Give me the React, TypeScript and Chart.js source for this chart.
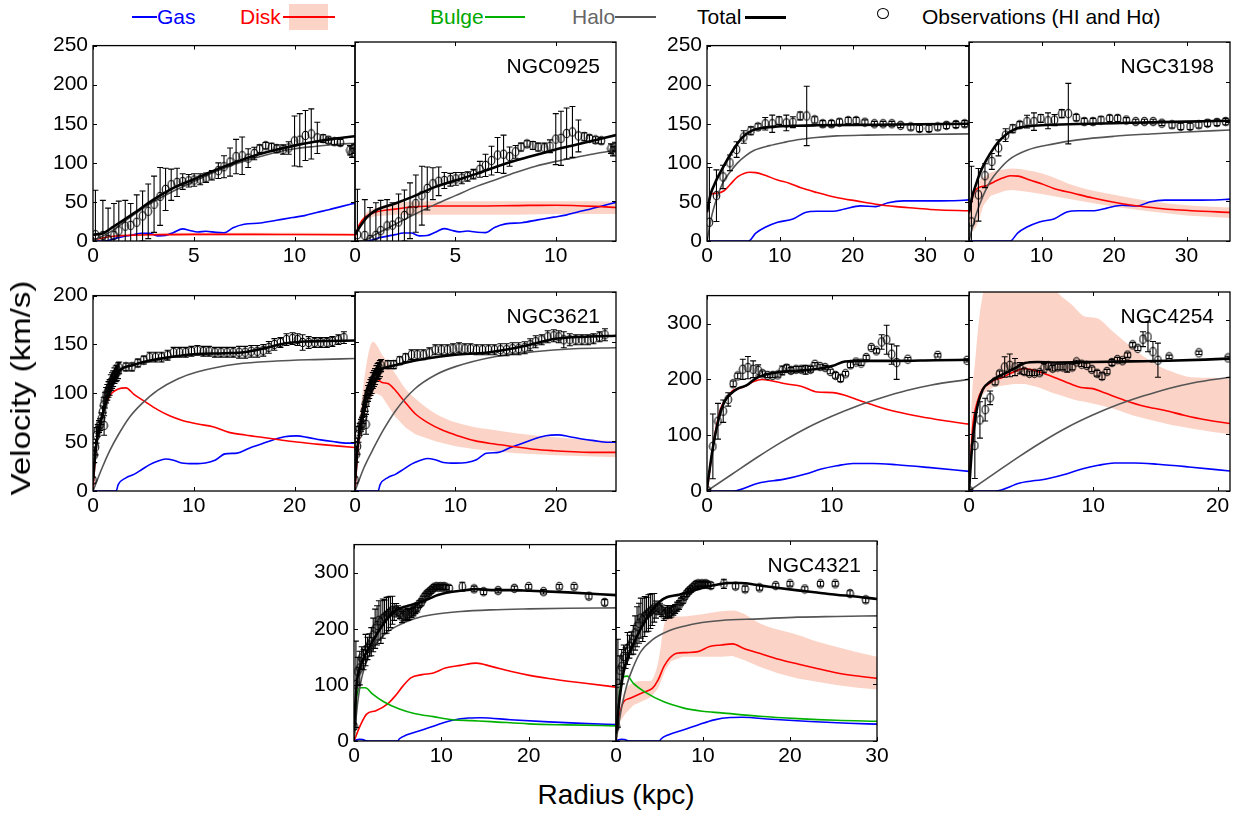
import React, { useEffect, useRef } from 'react';
import { Chart, registerables } from 'chart.js';

Chart.register(...registerables);

type Pts = number[][];

const FONT = "'Liberation Sans', Arial, Helvetica, sans-serif";
const GAS_C = '#0000ff';
const DISK_C = '#ff0000';
const BULGE_C = '#00b000';
const HALO_C = '#555555';
const TOT_C = '#000000';
const BAND_C = '#fcd4c7';

// ---------- NGC0925 ----------
const obs0925: Pts = [
  [0.12, 8, 57], [0.49, 7, 45], [0.75, 2, 40], [1.04, 7, 41], [1.28, 13, 38], [1.6, 19, 33],
  [1.87, 20, 28], [2.17, 24, 35], [2.46, 32, 32], [2.74, 38, 35], [3.03, 47, 36], [3.33, 57, 37],
  [3.6, 66, 27], [3.88, 72, 20], [4.17, 75, 18], [4.45, 76, 10], [4.75, 77, 8], [5.02, 78, 8],
  [5.32, 79, 7], [5.61, 81, 6], [5.9, 84, 6], [6.22, 90, 10], [6.5, 95, 14], [6.8, 101, 18],
  [7.1, 108, 22], [7.4, 109, 24], [7.7, 106, 12], [8.0, 112, 8], [8.27, 118, 5], [8.57, 122, 4],
  [8.86, 120, 5], [9.12, 118, 5], [9.43, 117, 6], [9.71, 119, 8], [10.0, 128, 32], [10.26, 129, 34],
  [10.54, 135, 32], [10.83, 137, 32], [11.13, 132, 20], [11.42, 131, 5], [11.68, 129, 4], [11.98, 127, 4],
  [12.27, 126, 4], [12.75, 116, 6], [12.85, 113, 6], [12.95, 118, 6],
];
const gas0925: Pts = [
  [0, 0], [0.6, 0], [1.2, 4], [2, 8], [2.4, 10], [2.8, 10], [3.2, 6.5], [3.6, 7], [4, 11], [4.45, 15.5],
  [4.8, 13.5], [5.2, 11.5], [5.6, 12.5], [6.1, 11], [6.5, 10.5], [6.95, 17], [7.5, 21.5], [8.3, 23],
  [9.1, 26.5], [9.9, 30], [10.5, 32.5], [11.1, 36.5], [11.7, 40], [12.3, 44], [13, 48.5],
];
const diskA0925: Pts = [[0, 1], [0.5, 4], [1, 6], [2, 7.5], [3, 8], [5, 8.5], [8, 8.5], [10, 8.3], [13, 8]];
const bandXA0925 = [1, 2, 4, 6, 8, 10, 12, 13];
const bandLoA0925 = [4.5, 6, 6.5, 7, 7, 7, 6.8, 6.5];
const bandHiA0925 = [7.5, 9.5, 10.5, 10.5, 10.5, 10.5, 10.3, 10];
const haloA0925: Pts = [
  [0, 0], [1, 14], [2, 33], [3, 50], [4, 64], [5, 76], [6, 88], [7, 98], [8, 106], [9, 113],
  [10, 118], [11, 121], [12, 123.5], [13, 125],
];
const totA0925: Pts = [
  [0, 8], [0.5, 10], [1, 18], [2, 35], [3, 53], [4, 68], [5, 79], [6, 90], [7, 100], [8, 109],
  [9, 116], [10, 122], [11, 127], [12, 131], [13, 134],
];
const diskB0925: Pts = [
  [0, 5], [0.2, 20], [0.5, 30], [1, 36], [2, 40], [3, 43], [4, 44], [6, 44], [8, 44.5], [10, 45],
  [12, 43.5], [13, 42],
];
const bandXB0925 = [0, 0.5, 1, 1.5, 2, 3, 4, 6, 8, 10, 12, 13];
const bandLoB0925 = [5, 27, 31, 32, 33, 33, 33, 33, 33, 34, 34, 34];
const bandHiB0925 = [5, 33, 41, 45, 47, 50, 50, 50, 50, 50, 50, 49];
const haloB0925: Pts = [
  [0, 0], [0.5, 1], [1, 8], [2, 21], [3, 34], [4, 46], [5, 57], [6, 68], [7, 77], [8, 86], [9, 94],
  [10, 100], [11, 105], [12, 110], [13, 114],
];
const totB0925: Pts = [
  [0, 8], [0.3, 20], [0.6, 30], [1, 38], [2, 47], [3, 57], [4, 68], [5, 76], [6, 84], [7, 93],
  [8, 101], [9, 108], [10, 115], [11, 121], [12, 127], [13, 133],
];

// ---------- NGC3198 ----------
const obs3198: Pts = [
  [0.33, 24, 70], [1.3, 58, 33], [2.2, 82, 15], [3.15, 100, 10], [4.07, 117, 10], [5.05, 133, 8],
  [6.03, 141, 5], [7.0, 146, 4], [8.0, 150, 8], [8.96, 150, 11], [9.9, 154, 5], [10.9, 151, 10],
  [11.8, 152, 7], [12.8, 160, 5], [13.7, 160, 38], [14.8, 155, 4], [15.9, 150, 4], [17.1, 150, 4],
  [18.2, 152, 4], [19.4, 154, 4], [20.5, 154, 4], [21.7, 152, 3], [23.0, 150, 3], [24.2, 150, 3],
  [25.4, 150, 3], [26.6, 148, 3], [28.0, 146, 4], [29.2, 144, 4], [30.5, 144, 4], [31.7, 146, 4],
  [32.9, 148, 4], [34.2, 149, 4], [35.4, 150, 4],
];
const gas3198: Pts = [
  [0, 0], [5.7, 0], [6.7, 10], [8, 17.5], [9.7, 24], [11.8, 28], [13.5, 36.5], [15.1, 38], [17.3, 38],
  [18.9, 41], [21.1, 45], [23.2, 44], [24.9, 49], [27, 51.3], [29.2, 51.3], [31.4, 51.3], [33.6, 51.5],
  [36, 52.6],
];
const diskA3198: Pts = [
  [0, 36], [0.54, 60], [1.25, 61], [2.3, 64], [3.15, 72], [4.2, 82], [5.9, 88], [6.7, 87.5], [8, 84],
  [9.7, 78], [11.3, 74], [12.9, 68], [15.1, 62], [17.8, 55.6], [20.5, 51.3], [23.2, 47], [26, 44],
  [28.7, 42], [31.4, 40], [36, 38.7],
];
const haloA3198: Pts = [
  [0, 0], [0.7, 34], [1.5, 59], [2.2, 75], [3.15, 88], [4.2, 100], [5.3, 109], [6.5, 116], [8.6, 122],
  [10.5, 126], [12.4, 129.5], [15, 132.5], [17.8, 134.5], [22, 135.5], [26, 136], [31, 136.5], [36, 137],
];
const totA3198: Pts = [
  [0, 37], [0.5, 60], [1, 72], [1.5, 82], [2.6, 101], [3.7, 118], [4.8, 132], [6.1, 141], [7.5, 144.5],
  [9.7, 146.5], [12.4, 147.5], [15.1, 148], [20.5, 148.6], [26, 149], [36, 150],
];
const diskB3198: Pts = [
  [0, 34], [0.65, 60], [1.36, 67], [2.4, 69.5], [3.5, 74.5], [4.6, 79], [5.7, 82], [6.8, 81.5],
  [8.4, 76.5], [10, 72], [11.7, 66], [14.4, 60], [17.1, 54], [19.8, 49], [22.5, 45], [25.2, 42],
  [28, 39.5], [30.7, 38], [36, 36],
];
const bandXB3198 = [0, 0.5, 1, 1.5, 2, 3, 5, 6, 8, 10, 15, 20, 25, 30, 36];
const bandLoB3198 = [25, 12, 18, 30, 45, 57, 63, 64, 62, 59, 51, 43, 37, 32, 29];
const bandHiB3198 = [40, 62, 72, 77, 80, 86, 90, 91, 89, 85, 68, 58, 50, 45, 42];
const haloB3198: Pts = [
  [0, 0], [0.5, 18], [1, 34], [2, 58], [3, 76], [4, 88], [5.5, 102], [8, 114], [11.7, 122], [15, 127],
  [20, 131.5], [25, 134.5], [30, 137], [36, 139.5],
];
const totB3198: Pts = [
  [0, 36], [0.5, 58], [1, 72], [1.5, 85], [2, 95], [3, 111], [4, 124], [5, 133], [6, 139], [7, 142.5],
  [8, 144], [10, 145.5], [15, 147], [20, 148], [25, 149], [30, 150], [36, 151],
];

// ---------- NGC3621 ----------
const obs3621: Pts = [
  [0, 11, 3], [0.12, 37, 8], [0.24, 45, 8], [0.35, 57, 8], [0.47, 62, 6], [0.6, 66, 6], [0.7, 68, 6],
  [0.83, 74, 6], [0.95, 81, 6], [1.06, 88, 8], [1.1, 67, 10], [1.18, 93, 8], [1.3, 98, 8], [1.42, 101, 8],
  [1.54, 104, 8], [1.65, 106, 8], [1.77, 111, 8], [1.89, 113, 8], [2.0, 115, 8], [2.13, 118, 8],
  [2.25, 120, 8], [2.36, 121, 8], [2.48, 123, 8], [2.6, 126, 6], [3.27, 127, 4], [3.86, 127, 4],
  [4.45, 131, 4], [5.04, 134, 4], [5.63, 137, 5], [6.2, 137, 5], [6.8, 137, 5], [7.4, 139, 5],
  [8.0, 142, 5], [8.6, 142, 5], [9.2, 142, 5], [9.77, 143, 5], [10.36, 144, 5], [10.95, 143, 5],
  [11.5, 143, 5], [12.1, 142, 5], [12.7, 142, 5], [13.3, 142, 5], [13.9, 142, 5], [14.5, 142, 6],
  [15.1, 142, 6], [15.7, 143, 6], [16.3, 143, 6], [16.9, 144, 6], [17.45, 147, 6], [18.0, 150, 6],
  [18.6, 152, 5], [19.2, 155, 6], [19.8, 156, 6], [20.3, 155, 6], [20.8, 152, 8], [21.4, 152, 6],
  [22.0, 152, 5], [22.6, 152, 5], [23.2, 152, 5], [23.75, 153, 5], [24.35, 155, 5], [24.9, 157, 6],
];
const gas3621: Pts = [
  [0, 0], [2.3, 0], [2.5, 6.5], [3.27, 13.5], [4.06, 17], [4.85, 22], [5.63, 27], [6.4, 30.5],
  [7.2, 32.7], [8.0, 31.4], [8.8, 28.7], [10, 28], [11.15, 28.7], [12.1, 31.4], [13.1, 38], [14.3, 38.8],
  [15.5, 43.8], [16.7, 48], [17.85, 52.3], [19, 55.6], [20.2, 56.4], [21.4, 54.6], [22.6, 52.3],
  [23.8, 50.6], [25.2, 49], [26, 49],
];
const diskA3621: Pts = [
  [0, 0], [0.3, 44], [0.7, 67.5], [1.1, 84], [1.5, 94.4], [1.9, 100.5], [2.5, 104.5], [3.27, 105.6],
  [4.06, 99], [5.24, 91], [6.4, 83.3], [7.6, 77], [8.8, 72.5], [10.4, 68.5], [11.9, 65.8], [13.5, 60],
  [15.1, 57.3], [17.45, 54], [19.8, 50.6], [22.2, 48], [26, 44.5],
];
const haloA3621: Pts = [
  [0, 0], [0.9, 23.6], [1.7, 42], [2.5, 57.3], [3.66, 76], [4.85, 89.4], [6.4, 103], [8.4, 114.7],
  [10.4, 122], [14.3, 130], [18.2, 133], [22, 134.5], [26, 135.6],
];
const totA3621: Pts = [
  [0, 10], [0.3, 45], [0.7, 68], [1, 80], [1.5, 98], [2, 113], [2.5, 122], [3, 126], [4, 129],
  [5, 132], [7, 136], [10, 140], [13, 141], [15, 142], [17, 146], [19, 151], [21, 153], [23, 153.5],
  [26, 154],
];
const diskB3621: Pts = [
  [0, 0], [0.3, 44], [0.7, 74], [1.1, 98], [1.5, 108], [1.9, 113], [2.3, 112], [2.7, 109], [3.27, 108],
  [3.86, 103], [4.85, 91], [6, 77.6], [7.2, 69], [8.8, 60.7], [10.4, 55], [11.9, 50.6], [13.9, 47.2],
  [15.9, 44.5], [17.8, 42], [19.8, 40.5], [21.8, 39.5], [23.75, 38.8], [26, 38.8],
];
const bandXB3621 = [0, 0.3, 0.7, 1.1, 1.5, 1.8, 2.2, 2.7, 3, 4, 5, 6, 8, 10, 12, 14, 16, 20, 26];
const bandLoB3621 = [0, 35, 60, 80, 92, 97, 98, 95, 90, 75, 64, 57, 50, 45, 42, 40, 38, 36, 34];
const bandHiB3621 = [0, 55, 95, 125, 145, 150, 146, 137, 133, 118, 103, 93, 78, 69, 64, 61, 58, 54, 50];
const haloB3621: Pts = [
  [0, 0], [0.9, 23.6], [1.9, 44], [2.9, 62.6], [4.06, 81], [6, 103], [8, 116.6], [10, 125],
  [13.9, 135], [17.8, 140], [21.8, 143], [26, 144],
];
const totB3621: Pts = [
  [0, 10], [0.3, 48], [0.7, 75], [1.1, 98], [1.5, 110], [2, 118], [2.5, 122], [3, 124], [3.86, 126],
  [5, 129], [7, 133], [10, 137], [13, 139], [15, 142], [17, 146], [19, 151], [20, 153], [23, 155],
  [26, 156],
];

// ---------- NGC4254 ----------
const obs4254: Pts = [
  [0.06, 0, 3], [0.47, 80, 58], [0.88, 125, 32], [1.3, 143, 20], [1.7, 164, 12], [2.1, 192, 5],
  [2.46, 206, 5], [2.87, 218, 18], [3.28, 221, 20], [3.7, 218, 15], [4.1, 216, 10], [4.45, 210, 5],
  [4.86, 207, 4], [5.27, 207, 4], [5.68, 208, 4], [6.03, 216, 8], [6.38, 220, 6], [6.73, 216, 5],
  [7.14, 218, 5], [7.55, 218, 5], [7.9, 217, 8], [8.3, 218, 5], [8.65, 227, 3], [9.06, 223, 4],
  [9.47, 221, 4], [9.88, 214, 4], [10.3, 207, 5], [10.7, 202, 6], [11.1, 210, 4], [11.5, 226, 5],
  [11.94, 231, 4], [12.35, 229, 4], [12.76, 239, 4], [13.17, 257, 4], [13.58, 251, 4], [14.0, 267, 13],
  [14.4, 271, 26], [14.8, 245, 18], [15.2, 230, 30], [16.1, 236, 3], [18.5, 243, 3], [20.84, 234, 3],
];
const gas4254: Pts = [
  [0, 0], [2.1, 0], [4.1, 14], [6.3, 21.7], [7.9, 30.5], [9.16, 39.3], [10.4, 45.2], [11.7, 49.3],
  [13.3, 49.3], [15.2, 47], [17.7, 42.3], [21, 35.2],
];
const diskA4254: Pts = [
  [0, 0], [0.63, 101], [1.1, 148], [1.58, 165.6], [2.05, 180], [2.5, 183], [3.16, 189], [3.8, 196.7],
  [4.4, 199.6], [5.05, 198], [6.3, 192], [7.6, 187.3], [8.84, 177.3], [10.1, 176.2], [11.05, 171.5],
  [12, 163.8], [13.6, 152], [15.2, 142], [17.05, 133.3], [18.95, 126.2], [21, 119.8],
];
const haloA4254: Pts = [
  [0, 0], [2, 30], [4, 60], [6, 88], [8, 113], [10, 134], [12, 152], [14, 167], [16, 180], [18, 190],
  [21, 200],
];
const totA4254: Pts = [
  [0, 5], [0.47, 77.5], [0.95, 130], [1.4, 160], [1.9, 174], [2.5, 184], [3.16, 189], [3.8, 200],
  [4.4, 206.7], [5.68, 212.6], [7.26, 215.5], [8.84, 218.4], [10.1, 224.3], [11.05, 232], [12.6, 233],
  [15.2, 233], [18.3, 234.3], [21, 235],
];
const diskB4254: Pts = [
  [0, 0], [0.3, 112.7], [0.63, 153.8], [1.1, 180], [1.58, 188], [2.05, 195], [2.7, 199.6], [3.3, 206.7],
  [3.96, 212.6], [4.4, 215.5], [5.2, 212.6], [6.2, 205.5], [7.1, 198], [8.1, 189], [9.0, 182],
  [9.97, 180], [10.9, 172.6], [12.5, 159.7], [14.1, 149], [15.7, 142], [17.3, 133.3], [18.9, 125.7],
  [21, 118.6],
];
const bandXB4254 = [0, 0.2, 0.5, 0.8, 1.2, 2, 3.6, 4.5, 5.5, 6.8, 7.1, 8.4, 8.7, 9.3, 10.3, 11.6, 13.2, 14.7, 16.3, 17.9, 19.5, 21];
const bandLoB4254 = [0, 70, 125, 155, 172, 183, 188, 188, 183, 172, 170, 161, 159, 157, 152, 145, 133, 124.5, 116, 110, 104, 100];
const bandHiB4254 = [0, 150, 230, 300, 355, 400, 420, 420, 400, 360, 350, 325, 318, 307, 304, 280, 251, 227, 210, 200, 199, 198];
const haloB4254: Pts = [
  [0, 0], [2, 30], [4, 60], [6, 88], [8, 113], [10, 134], [12, 152], [14, 167], [16, 180], [18, 190],
  [21, 200],
];
const totB4254: Pts = [
  [0, 0], [0.25, 78], [0.6, 140], [1.1, 178], [1.7, 192], [2.4, 202], [3, 208], [3.6, 215], [4.5, 225],
  [5.5, 227], [7, 226], [10, 227], [13, 228], [16, 229], [19, 231], [21, 233],
];

// ---------- NGC4321 ----------
const obs4321: Pts = [
  [0, 26, 5], [0.22, 101, 77], [0.44, 124, 25], [0.66, 130, 30], [0.88, 148, 20], [1.1, 145, 18],
  [1.32, 162, 28], [1.54, 165, 20], [1.76, 171, 20], [1.98, 177, 25], [2.2, 189, 30], [2.42, 200, 35],
  [2.64, 206, 35], [2.85, 215, 35], [3.07, 212, 38], [3.3, 218, 35], [3.5, 221, 30], [3.73, 224, 32],
  [3.95, 227, 30], [4.17, 230, 28], [4.4, 233, 25], [4.6, 230, 15], [4.83, 233, 12], [5.05, 231, 10],
  [5.27, 228, 10], [5.5, 221, 10], [5.7, 224, 10], [5.93, 227, 10], [6.15, 225, 10], [6.37, 227, 10],
  [6.59, 228, 8], [6.8, 231, 8], [7.03, 235, 8], [7.25, 238, 8], [7.47, 244, 6], [7.7, 247, 6],
  [7.9, 253, 5], [8.12, 258, 5], [8.34, 262, 5], [8.56, 265, 5], [8.78, 268, 5], [9.0, 271, 5],
  [9.2, 274, 5], [9.44, 275, 4], [9.66, 274, 4], [9.88, 275, 4], [10.1, 274, 4], [10.3, 275, 4],
  [10.5, 274, 4], [10.9, 272, 5], [12.4, 275, 8], [13.75, 271, 5], [14.84, 266, 5], [16.5, 268, 4],
  [18.36, 272, 4], [20, 275, 4], [21.7, 266, 4], [23.5, 275, 4], [25.2, 275, 4], [26.9, 258, 5],
  [28.7, 247, 5],
];
const gas4321: Pts = [
  [0, 0], [0.3, 2], [0.6, 3], [1.0, 2.5], [1.4, 0.5], [1.8, 0], [5, 0], [5.2, 4], [6.06, 11], [7.8, 19.5],
  [9.57, 29], [11.3, 37], [13.1, 41], [14.5, 41.5], [17.9, 38], [22.3, 34], [26.7, 31], [30, 29.5],
];
const bulgeA4321: Pts = [
  [0, 0], [0.35, 83], [0.8, 95], [1.3, 95], [2.1, 84], [3.4, 70], [5.2, 57], [6.9, 49], [9.1, 43.4],
  [11.3, 38], [13.5, 36.3], [15.7, 34.6], [20, 30.5], [24.5, 28.7], [30, 27],
];
const diskA4321: Pts = [
  [0, 0], [0.8, 30.5], [1.45, 48], [2.5, 54], [3.9, 66.8], [4.7, 80], [5.6, 97.8], [6.5, 112.5],
  [7.8, 118.3], [9.1, 121.3], [10.45, 130], [12.2, 134.7], [14, 138.8], [15.7, 133], [17.9, 124.2],
  [20.1, 117], [22.3, 111.3], [24.5, 106.6], [26.7, 102.5], [30, 96],
];
const haloA4321: Pts = [
  [0, 0], [0.44, 71.5], [0.88, 112.5], [1.45, 141.8], [2.3, 168], [3.4, 188.6], [4.74, 203.3],
  [6.9, 218], [9.1, 225.5], [12.2, 230.8], [15.7, 233.7], [20.1, 235.5], [24.5, 236.7], [30, 237.3],
];
const totA4321: Pts = [
  [0, 26], [0.35, 107], [0.8, 136], [1.45, 159], [2.1, 177], [3, 200], [3.65, 215], [4.3, 226.7],
  [4.96, 234], [5.6, 238.4], [6.3, 241.4], [6.9, 244.3], [7.8, 248.4], [8.7, 254.3], [9.6, 260],
  [10.45, 263.6], [12.2, 267.7], [14, 270.6], [15.7, 268.9], [17.9, 268.9], [20.1, 267.7], [24.5, 264.8],
  [30, 260],
];
const bulgeB4321: Pts = [
  [0, 0], [0.44, 89], [0.88, 112.5], [1.3, 113.6], [2, 100.8], [3.3, 86], [5.5, 68.5], [7.7, 58],
  [9.9, 52.1], [12.1, 49.2], [16.5, 43.3], [20.9, 39.2], [25.3, 36.3], [30, 34.6],
];
const diskB4321: Pts = [
  [0, 0], [0.44, 48], [0.88, 68.5], [1.54, 74.4], [2.4, 80], [3.3, 86], [4.17, 92], [4.83, 106.6],
  [5.5, 130], [6.15, 144.7], [7.0, 153.5], [8.1, 154.7], [9.44, 156.4], [10.76, 165.2], [12.1, 168],
  [13.4, 170], [14.7, 162], [16.5, 153.5], [18.7, 143], [20.9, 134.7], [23.1, 127], [25.3, 119.5],
  [27.5, 114.2], [30, 109.5],
];
const bandXB4321 = [0, 0.5, 1.1, 2, 3.07, 3.95, 4.83, 5.7, 6.37, 7.7, 9.44, 10.76, 12.1, 13.4, 14.7, 16.5, 18.7, 20.9, 23.1, 25.3, 27.5, 30];
const bandLoB4321 = [0, 35, 48, 62.7, 70, 76, 92, 125, 140, 147.6, 147.6, 147.6, 147.6, 148.8, 141.8, 130, 118.3, 109.5, 103.7, 97.8, 93.7, 90.2];
const bandHiB4321 = [0, 60, 89, 102, 105, 105, 136, 212, 218, 218, 221, 224, 227, 228.5, 222.6, 206, 194.5, 185.7, 174, 165, 156.4, 147.6];
const haloB4321: Pts = [
  [0, 0], [0.66, 59.8], [1.3, 100.8], [2, 130], [2.85, 156.4], [4.17, 177], [5.9, 191.6], [7.7, 200.4],
  [9.9, 207.4], [12.1, 211], [16.5, 213.8], [20.9, 216.8], [25.3, 218], [30, 219],
];
const totB4321: Pts = [
  [0, 13], [0.44, 77], [0.88, 121], [1.54, 153.5], [2.4, 183], [3.3, 209], [4.17, 229.6], [5.05, 244.3],
  [5.9, 252], [7.25, 256], [8.6, 262], [9.9, 267.7], [11.2, 272.4], [12.96, 276.5], [14.3, 276.5],
  [16.5, 272.4], [18.7, 267.7], [20.9, 263.6], [23.1, 260], [25.3, 256], [27.5, 253], [30, 248.4],
];

// ---------- panel layout ----------
const PAD_L = 60;
const PAD_R = 16;
const PAD_T = 14;
const PAD_B = 32;

interface Band { x: number[]; lo: number[]; hi: number[] }
interface PanelSpec {
  left: number; top: number; width: number; height: number;
  xMax: number; yMax: number; xTicks: number[]; yTicks: number[];
  showY: boolean; name?: string;
  obs: Pts; gas: Pts; disk: Pts; halo: Pts; total: Pts; bulge?: Pts; band?: Band;
}

const Y250 = [0, 50, 100, 150, 200, 250];
const Y200 = [0, 50, 100, 150, 200];
const Y350 = [0, 100, 200, 300];

const panels: PanelSpec[] = [
  { left: 93, top: 42, width: 262, height: 199, xMax: 13, yMax: 250, xTicks: [0, 5, 10], yTicks: Y250, showY: true,
    obs: obs0925, gas: gas0925, disk: diskA0925, halo: haloA0925, total: totA0925,
    band: { x: bandXA0925, lo: bandLoA0925, hi: bandHiA0925 } },
  { left: 355, top: 42, width: 261, height: 199, xMax: 13, yMax: 250, xTicks: [0, 5, 10], yTicks: Y250, showY: false, name: 'NGC0925',
    obs: obs0925, gas: gas0925, disk: diskB0925, halo: haloB0925, total: totB0925,
    band: { x: bandXB0925, lo: bandLoB0925, hi: bandHiB0925 } },
  { left: 707, top: 42, width: 262, height: 199, xMax: 36, yMax: 250, xTicks: [0, 10, 20, 30], yTicks: Y250, showY: true,
    obs: obs3198, gas: gas3198, disk: diskA3198, halo: haloA3198, total: totA3198 },
  { left: 969, top: 42, width: 261, height: 199, xMax: 36, yMax: 250, xTicks: [0, 10, 20, 30], yTicks: Y250, showY: false, name: 'NGC3198',
    obs: obs3198, gas: gas3198, disk: diskB3198, halo: haloB3198, total: totB3198,
    band: { x: bandXB3198, lo: bandLoB3198, hi: bandHiB3198 } },
  { left: 93, top: 292, width: 262, height: 199, xMax: 26, yMax: 200, xTicks: [0, 10, 20], yTicks: Y200, showY: true,
    obs: obs3621, gas: gas3621, disk: diskA3621, halo: haloA3621, total: totA3621 },
  { left: 355, top: 292, width: 261, height: 199, xMax: 26, yMax: 200, xTicks: [0, 10, 20], yTicks: Y200, showY: false, name: 'NGC3621',
    obs: obs3621, gas: gas3621, disk: diskB3621, halo: haloB3621, total: totB3621,
    band: { x: bandXB3621, lo: bandLoB3621, hi: bandHiB3621 } },
  { left: 707, top: 292, width: 262, height: 199, xMax: 21, yMax: 350, xTicks: [0, 10], yTicks: Y350, showY: true,
    obs: obs4254, gas: gas4254, disk: diskA4254, halo: haloA4254, total: totA4254 },
  { left: 969, top: 292, width: 261, height: 199, xMax: 21, yMax: 350, xTicks: [0, 10, 20], yTicks: Y350, showY: false, name: 'NGC4254',
    obs: obs4254, gas: gas4254, disk: diskB4254, halo: haloB4254, total: totB4254,
    band: { x: bandXB4254, lo: bandLoB4254, hi: bandHiB4254 } },
  { left: 354, top: 541, width: 262, height: 200, xMax: 30, yMax: 350, xTicks: [0, 10, 20], yTicks: Y350, showY: true,
    obs: obs4321, gas: gas4321, disk: diskA4321, halo: haloA4321, total: totA4321, bulge: bulgeA4321 },
  { left: 616, top: 541, width: 261, height: 200, xMax: 30, yMax: 350, xTicks: [0, 10, 20, 30], yTicks: Y350, showY: false, name: 'NGC4321',
    obs: obs4321, gas: gas4321, disk: diskB4321, halo: haloB4321, total: totB4321, bulge: bulgeB4321,
    band: { x: bandXB4321, lo: bandLoB4321, hi: bandHiB4321 } },
];

const toXY = (d: Pts) => d.map(([x, y]) => ({ x, y }));

const curve = (d: Pts, color: string, width: number, order: number) => ({
  data: toXY(d),
  showLine: true,
  borderColor: color,
  borderWidth: width,
  pointRadius: 0,
  fill: false,
  order,
  cubicInterpolationMode: 'monotone',
});

// open, slightly tall elliptical marker for the observed points
function makeMarker(): HTMLCanvasElement {
  const c = document.createElement('canvas');
  c.width = 9;
  c.height = 11;
  const g = c.getContext('2d') as CanvasRenderingContext2D;
  g.strokeStyle = '#000';
  g.lineWidth = 1.1;
  g.beginPath();
  g.ellipse(4.5, 5.5, 3.3, 4.2, 0, 0, Math.PI * 2);
  g.stroke();
  return c;
}

// box with inward tick marks on every side, plus the galaxy name
const framePlugin = (spec: PanelSpec) => ({
  id: 'frameTicks',
  afterDraw(chart: any) {
    const { ctx, chartArea: a, scales } = chart;
    ctx.save();
    ctx.strokeStyle = '#000';
    ctx.lineWidth = 1;
    ctx.beginPath();
    for (const v of spec.xTicks) {
      const px = Math.round(scales.x.getPixelForValue(v)) + 0.5;
      ctx.moveTo(px, a.bottom); ctx.lineTo(px, a.bottom - 4);
      ctx.moveTo(px, a.top); ctx.lineTo(px, a.top + 4);
    }
    for (const v of spec.yTicks) {
      const py = Math.round(scales.y.getPixelForValue(v)) + 0.5;
      ctx.moveTo(a.left, py); ctx.lineTo(a.left + 4, py);
      ctx.moveTo(a.right, py); ctx.lineTo(a.right - 4, py);
    }
    ctx.stroke();
    ctx.lineWidth = 1.3;
    ctx.strokeRect(a.left, a.top, a.right - a.left, a.bottom - a.top);
    if (spec.name) {
      ctx.font = `21px ${FONT}`;
      ctx.fillStyle = '#000';
      ctx.textAlign = 'right';
      ctx.textBaseline = 'alphabetic';
      ctx.fillText(spec.name, a.right - 16, a.top + 31);
    }
    ctx.restore();
  },
});

// vertical error bars with caps for the observed rotation velocities
const errorBarPlugin = (obs: Pts) => ({
  id: 'errorBars',
  afterDatasetsDraw(chart: any) {
    const { ctx, chartArea: a, scales } = chart;
    ctx.save();
    ctx.beginPath();
    ctx.rect(a.left, a.top, a.right - a.left, a.bottom - a.top);
    ctx.clip();
    ctx.strokeStyle = '#000';
    ctx.lineWidth = 1.1;
    ctx.beginPath();
    for (const [r, v, e] of obs) {
      const px = scales.x.getPixelForValue(r);
      const top = scales.y.getPixelForValue(v + e);
      const bot = scales.y.getPixelForValue(v - e);
      ctx.moveTo(px, bot); ctx.lineTo(px, top);
      ctx.moveTo(px - 3, top); ctx.lineTo(px + 3, top);
      ctx.moveTo(px - 3, bot); ctx.lineTo(px + 3, bot);
    }
    ctx.stroke();
    ctx.restore();
  },
});

function buildConfig(spec: PanelSpec): any {
  const datasets: any[] = [];
  if (spec.band) {
    const b = spec.band;
    datasets.push({
      data: b.x.map((x, i) => ({ x, y: b.lo[i] })),
      showLine: true, borderWidth: 0, borderColor: 'rgba(0,0,0,0)', pointRadius: 0, fill: false, order: 20,
    });
    datasets.push({
      data: b.x.map((x, i) => ({ x, y: b.hi[i] })),
      showLine: true, borderWidth: 0, borderColor: 'rgba(0,0,0,0)', pointRadius: 0,
      fill: '-1', backgroundColor: BAND_C, order: 19, cubicInterpolationMode: 'monotone',
    });
  }
  datasets.push(curve(spec.gas, GAS_C, 1.6, 6));
  datasets.push(curve(spec.disk, DISK_C, 1.6, 5));
  if (spec.bulge) datasets.push(curve(spec.bulge, BULGE_C, 1.6, 4));
  datasets.push(curve(spec.halo, HALO_C, 1.6, 3));
  datasets.push(curve(spec.total, TOT_C, 2.6, 2));
  datasets.push({
    data: spec.obs.map(([x, y]) => ({ x, y })),
    showLine: false,
    pointStyle: makeMarker(),
    pointRadius: 4,
    order: 1,
  });

  const tickFont = { size: 21, family: FONT };
  return {
    type: 'scatter',
    data: { datasets },
    options: {
      animation: false,
      responsive: false,
      events: [],
      layout: { padding: { top: PAD_T, right: PAD_R, left: 0, bottom: 0 }, autoPadding: false },
      plugins: { legend: { display: false }, tooltip: { enabled: false } },
      scales: {
        x: {
          type: 'linear', min: 0, max: spec.xMax,
          grid: { display: false, drawTicks: false }, border: { display: false },
          ticks: { font: tickFont, color: '#000', padding: 3, maxRotation: 0, autoSkip: false },
          afterBuildTicks: (s: any) => { s.ticks = spec.xTicks.map((v) => ({ value: v })); },
          afterFit: (s: any) => { s.height = PAD_B; },
        },
        y: {
          type: 'linear', min: 0, max: spec.yMax,
          grid: { display: false, drawTicks: false }, border: { display: false },
          ticks: { display: spec.showY, font: tickFont, color: '#000', padding: 5, autoSkip: false },
          afterBuildTicks: (s: any) => { s.ticks = spec.yTicks.map((v) => ({ value: v })); },
          afterFit: (s: any) => { s.width = PAD_L; },
        },
      },
    },
    plugins: [errorBarPlugin(spec.obs), framePlugin(spec)],
  };
}

function Panel({ spec }: { spec: PanelSpec }) {
  const ref = useRef<HTMLCanvasElement>(null);
  const w = spec.width + PAD_L + PAD_R;
  const h = spec.height + PAD_T + PAD_B;
  useEffect(() => {
    const chart = new Chart(ref.current as HTMLCanvasElement, buildConfig(spec));
    return () => chart.destroy();
  }, [spec]);
  return (
    <canvas
      ref={ref}
      width={w}
      height={h}
      style={{ position: 'absolute', left: spec.left - PAD_L, top: spec.top - PAD_T, width: w, height: h }}
    />
  );
}

const textStyle = (left: number, color: string): React.CSSProperties => ({
  position: 'absolute', left, top: 5, fontSize: 21, lineHeight: '24px', color, whiteSpace: 'nowrap',
});
const lineStyle = (left: number, width: number, color: string, thick: number): React.CSSProperties => ({
  position: 'absolute', left, width, top: 17 - thick / 2, height: thick, background: color,
});

export default function App() {
  return (
    <div style={{ position: 'absolute', left: 0, top: 0, width: 1238, height: 815, background: '#fff', fontFamily: FONT, overflow: 'hidden' }}>
      {/* legend */}
      <div style={lineStyle(132, 25, GAS_C, 1.6)} />
      <div style={textStyle(157, GAS_C)}>Gas</div>
      <div style={textStyle(240, DISK_C)}>Disk</div>
      <div style={{ position: 'absolute', left: 289, top: 4, width: 39, height: 26, background: BAND_C }} />
      <div style={lineStyle(283, 52, DISK_C, 1.6)} />
      <div style={textStyle(430, '#00a800')}>Bulge</div>
      <div style={lineStyle(485, 40, BULGE_C, 1.6)} />
      <div style={textStyle(572, '#666666')}>Halo</div>
      <div style={lineStyle(615, 41, HALO_C, 1.6)} />
      <div style={textStyle(697, '#000')}>Total</div>
      <div style={lineStyle(745, 41, TOT_C, 3)} />
      <div style={{ position: 'absolute', left: 877, top: 8, width: 10, height: 9, border: '1.2px solid #000', borderRadius: '50%' }} />
      <div style={textStyle(922, '#000')}>Observations (HI and Hα)</div>

      {panels.map((p, i) => <Panel key={i} spec={p} />)}

      {/* axis titles */}
      <div style={{
        position: 'absolute', left: 21, top: 388, fontSize: 28, lineHeight: '30px', whiteSpace: 'nowrap', color: '#000',
        transform: 'translate(-50%, -50%) rotate(-90deg) scaleX(1.18)',
      }}>Velocity (km/s)</div>
      <div style={{
        position: 'absolute', left: 616, top: 795, fontSize: 28, lineHeight: '30px', whiteSpace: 'nowrap', color: '#000',
        transform: 'translate(-50%, -50%)',
      }}>Radius (kpc)</div>
    </div>
  );
}
